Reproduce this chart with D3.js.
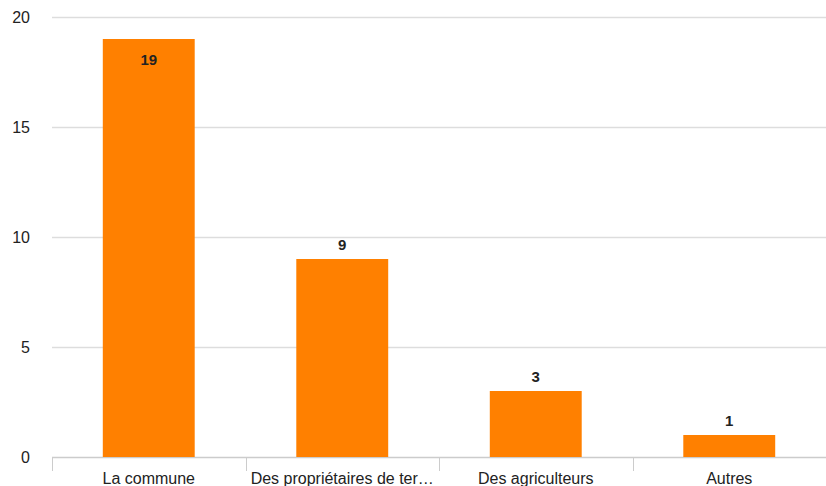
<!DOCTYPE html>
<html>
<head>
<meta charset="utf-8">
<script src="https://cdn.jsdelivr.net/npm/d3@7"></script>
<style>
  body { margin: 0; background: #fff; }
  text { font-family: Arial, "Liberation Sans", sans-serif; }
</style>
</head>
<body>
<script>
// chart values
var categories = ["La commune", "Des propriétaires de ter…", "Des agriculteurs", "Autres"];
var values = [19, 9, 3, 1];
var yTicks = [0, 5, 10, 15, 20];

var w = 826, h = 486;
var plotLeft = 52, plotRight = 826, plotTop = 17, plotBottom = 457;

var svg = d3.select("body").append("svg")
    .attr("width", w)
    .attr("height", h);

var x = d3.scaleBand()
    .domain(categories)
    .range([plotLeft, plotRight])
    .paddingInner(0.525)
    .paddingOuter(0.2625);

var y = d3.scaleLinear()
    .domain([0, 20])
    .range([plotBottom, plotTop]);

// gridlines
svg.append("g")
    .selectAll("line")
    .data(yTicks)
    .enter()
    .append("line")
    .attr("x1", plotLeft)
    .attr("x2", plotRight)
    .attr("y1", function(d) { return Math.round(y(d)) + 0.5; })
    .attr("y2", function(d) { return Math.round(y(d)) + 0.5; })
    .attr("stroke", function(d) { return d == 0 ? "#cccccc" : "#dddddd"; })
    .attr("stroke-width", 1.5);

// y labels
svg.append("g")
    .selectAll("text")
    .data(yTicks)
    .enter()
    .append("text")
    .attr("x", 30)
    .attr("y", function(d) { return y(d) + 6; })
    .attr("text-anchor", "end")
    .attr("font-size", 16)
    .attr("fill", "#222")
    .text(function(d) { return d; });

// bars
svg.append("g")
    .selectAll("rect")
    .data(values)
    .enter()
    .append("rect")
    .attr("x", function(d, i) { return x(categories[i]); })
    .attr("width", x.bandwidth())
    .attr("y", function(d) { return y(d); })
    .attr("height", function(d) { return y(0) - y(d); })
    .attr("fill", "#ff8000");

// value labels (the tallest one sits inside its bar)
svg.append("g")
    .selectAll("text")
    .data(values)
    .enter()
    .append("text")
    .attr("x", function(d, i) { return x(categories[i]) + x.bandwidth() / 2; })
    .attr("y", function(d) { return d >= 18 ? y(d) + 26 : y(d) - 9; })
    .attr("text-anchor", "middle")
    .attr("font-size", 15)
    .attr("font-weight", "bold")
    .attr("fill", "#222")
    .text(function(d) { return d; });

// x axis separators
var seps = categories.map(function(c) { return x(c) - x.step() * x.paddingInner() / 2; });
seps.push(plotRight);
svg.append("g")
    .selectAll("line")
    .data(seps)
    .enter()
    .append("line")
    .attr("x1", function(d) { return Math.round(d) + 0.5; })
    .attr("x2", function(d) { return Math.round(d) + 0.5; })
    .attr("y1", plotBottom)
    .attr("y2", plotBottom + 14)
    .attr("stroke", "#cccccc")
    .attr("stroke-width", 1);

// category labels
svg.append("g")
    .selectAll("text")
    .data(categories)
    .enter()
    .append("text")
    .attr("x", function(d) { return x(d) + x.bandwidth() / 2; })
    .attr("y", 484)
    .attr("text-anchor", "middle")
    .attr("font-size", 16)
    .attr("fill", "#222")
    .text(function(d) { return d; });
</script>
</body>
</html>
